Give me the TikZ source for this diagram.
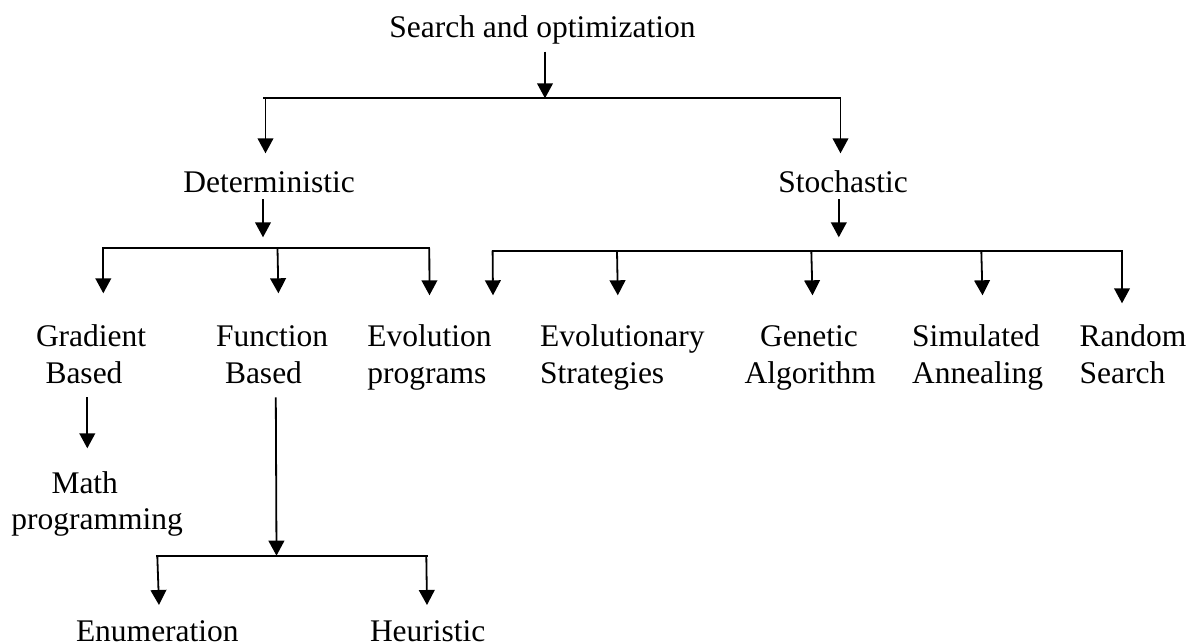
\documentclass[tikz,border=0pt]{standalone}
\usepackage{fontspec}
\setmainfont{Liberation Serif}
\usetikzlibrary{arrows.meta}
\tikzset{
  lbl/.style={inner sep=0pt, outer sep=0pt, font=\fontsize{31.5}{36.5}\selectfont},
  conn/.style={line width=1.8pt},
  arr/.style={line width=1.8pt, -{Triangle[width=15.7pt,length=15pt]}},
}
\newcommand{\twol}[2]{\begin{tabular}[t]{@{}l@{}}#1\\#2\end{tabular}}
\begin{document}
\begin{tikzpicture}[x=1pt,y=-1pt]
\useasboundingbox (0,0) rectangle (1204,642);
% labels
\node[lbl, anchor=base] (search) at (542.4,37.3) {Search and optimization};
\node[lbl, anchor=base] (det) at (269,192.7) {Deterministic};
\node[lbl, anchor=base] (sto) at (843,192.2) {Stochastic};
\node[lbl, anchor=base west] (grad) at (36,346.7) {\twol{Gradient}{\hspace*{9.5pt}Based}};
\node[lbl, anchor=base west] (func) at (216,346.7) {\twol{Function}{\hspace*{9pt}Based}};
\node[lbl, anchor=base west] (evop) at (367.4,346.7) {\twol{Evolution}{programs}};
\node[lbl, anchor=base west] (evos) at (540,346.7) {\twol{Evolutionary}{Strategies}};
\node[lbl, anchor=base west] (gen) at (744.5,346.7) {\twol{\hspace*{15.5pt}Genetic}{Algorithm}};
\node[lbl, anchor=base west] (sim) at (912,346.7) {\twol{Simulated}{Annealing}};
\node[lbl, anchor=base west] (rnd) at (1079.6,346.7) {\twol{Random}{Search}};
\node[lbl, anchor=base west] (math) at (11.5,493.3) {\twol{\hspace*{40pt}Math}{programming}};
\node[lbl, anchor=base west] (enum) at (76,641) {Enumeration};
\node[lbl, anchor=base west] (heur) at (370,641) {Heuristic};
% coordinates
\coordinate (s0) at (545,51.7);
\coordinate (s1) at (545,98.3);
\coordinate (b1l) at (263,98.3);
\coordinate (b1r) at (841,98.3);
\coordinate (d0) at (265.5,98.3);
\coordinate (d1) at (265.5,153.3);
\coordinate (t0) at (840.5,98.3);
\coordinate (t1) at (840.5,153.3);
\coordinate (dd0) at (263,199.3);
\coordinate (dd1) at (263,237.3);
\coordinate (td0) at (838.8,199.3);
\coordinate (td1) at (838.8,237.3);
\coordinate (b2l) at (102.4,248.3);
\coordinate (b2r) at (430.2,248.3);
\coordinate (b3l) at (491.8,250.7);
\coordinate (b3r) at (1122.9,250.7);
\coordinate (g0) at (87.3,397.3);
\coordinate (g1) at (87.3,448.3);
\coordinate (f0) at (275.8,397.3);
\coordinate (f1) at (276.5,555.7);
\coordinate (b4l) at (156.4,555.7);
\coordinate (b4r) at (427.5,555.7);
% bars
\draw[conn] (b1l) -- (b1r);
\draw[conn] (b2l) -- (b2r);
\draw[conn] (b3l) -- (b3r);
\draw[conn] (b4l) -- (b4r);
% arrows
\draw[arr] (s0) -- (s1);
\draw[arr] (d0) -- (d1);
\draw[arr] (t0) -- (t1);
\draw[arr] (dd0) -- (dd1);
\draw[arr] (td0) -- (td1);
\draw[arr] (103.3,248.3) -- (103.3,293.3);
\draw[arr] (277.5,248.3) -- (278.4,293.3);
\draw[arr] (429.3,248.3) -- (429.5,295.3);
\draw[arr] (492.6,250.7) -- (493,295.3);
\draw[arr] (617,250.7) -- (617.8,295.3);
\draw[arr] (811.3,250.7) -- (812.5,295.3);
\draw[arr] (981.3,250.7) -- (982.5,295.3);
\draw[arr] (1122,250.7) -- (1122,303.3);
\draw[arr] (g0) -- (g1);
\draw[arr] (f0) -- (f1);
\draw[arr] (157.3,555.7) -- (159,605);
\draw[arr] (426.3,555.7) -- (427,605);
\end{tikzpicture}
\end{document}
